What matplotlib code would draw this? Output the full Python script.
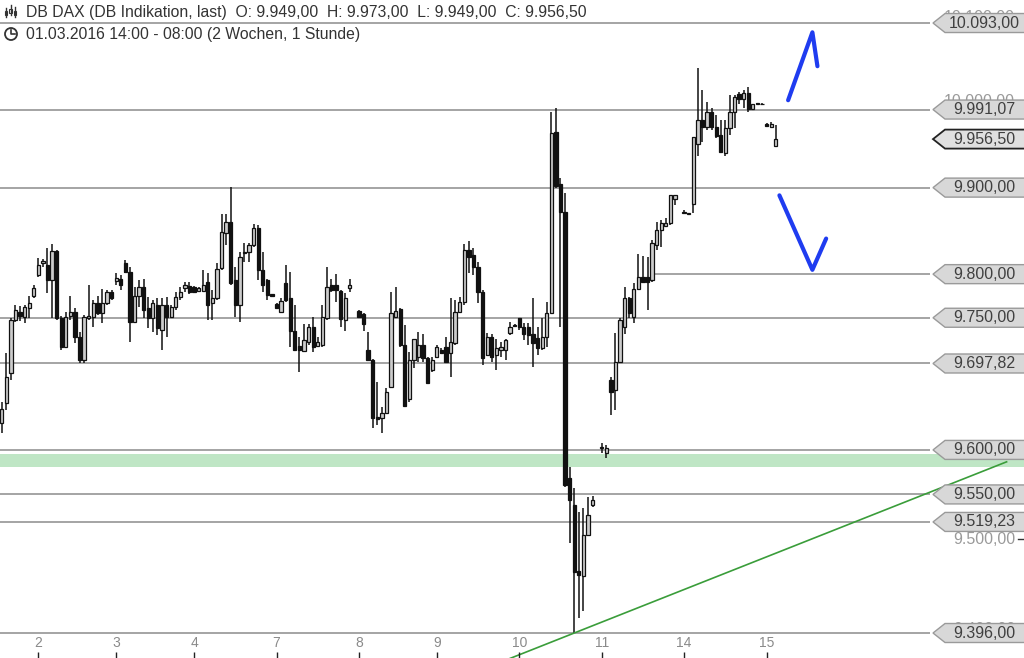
import numpy as np
import matplotlib.pyplot as plt
from matplotlib.patches import Polygon, Circle, Rectangle
from matplotlib.transforms import IdentityTransform, blended_transform_factory

W, H = 1024, 658

# hourly candles, DB DAX indication, 01.03.2016 14:00 - 15.03.2016 08:00
opens = [9630, 9653, 9687, 9747, 9757, 9751, 9761, 9775, 9799, 9813,
         9811, 9793, 9827, 9750, 9717, 9752, 9757, 9728, 9702, 9750,
         9751, 9767, 9755, 9767, 9780, 9792, 9795, 9813, 9803, 9745,
         9775, 9785, 9761, 9750, 9765, 9736, 9765, 9751, 9762, 9774,
         9784, 9786, 9785, 9781, 9781, 9791, 9767, 9773, 9807, 9848,
         9860, 9793, 9765, 9824, 9826, 9834, 9853, 9805, 9793, 9777,
         9766, 9757, 9790, 9773, 9735, 9718, 9712, 9722, 9739, 9718,
         9719, 9750, 9788, 9788, 9781, 9747, 9784, 9758, 9754, 9713,
         9702, 9637, 9636, 9642, 9671, 9751, 9760, 9719, 9658, 9702,
         9705, 9719, 9704, 9690, 9705, 9713, 9717, 9710, 9721, 9757,
         9768, 9828, 9822, 9808, 9780, 9708, 9728, 9708, 9713, 9713,
         9733, 9742, 9750, 9739, 9739, 9732, 9727, 9716, 9728, 9756,
         9965, 9904, 9872, 9568, 9538, 9465, 9459, 9505, 9538, 9602,
         9596, 9679, 9668, 9700, 9739, 9773, 9751, 9783, 9797, 9797,
         9793, 9834, 9851, 9855, 9859, 9887, 9871, 9869, 9881, 9951,
         9979, 9971, 9988, 9971, 9961, 9940, 9969, 9988, 10009, 10004,
         10011, 9992, 9999, 9997, 9974, 9971, 9949]
highs = [9654, 9710, 9750, 9765, 9764, 9765, 9775, 9788, 9819, 9817,
         9830, 9835, 9828, 9752, 9757, 9775, 9761, 9734, 9753, 9788,
         9770, 9775, 9783, 9782, 9782, 9801, 9799, 9816, 9808, 9785,
         9793, 9794, 9774, 9770, 9773, 9773, 9774, 9765, 9780, 9785,
         9791, 9791, 9786, 9785, 9805, 9801, 9782, 9813, 9869, 9869,
         9901, 9808, 9825, 9836, 9836, 9858, 9857, 9825, 9795, 9777,
         9767, 9773, 9811, 9803, 9765, 9728, 9743, 9743, 9751, 9728,
         9765, 9808, 9795, 9800, 9782, 9778, 9795, 9759, 9756, 9734,
         9703, 9677, 9648, 9670, 9780, 9785, 9761, 9742, 9711, 9726,
         9734, 9731, 9705, 9705, 9719, 9715, 9728, 9773, 9770, 9774,
         9835, 9838, 9830, 9814, 9782, 9733, 9731, 9726, 9722, 9726,
         9745, 9743, 9750, 9744, 9744, 9773, 9739, 9750, 9768, 9988,
         9993, 9911, 9894, 9581, 9557, 9530, 9535, 9547, 9548, 9608,
         9606, 9682, 9733, 9750, 9785, 9774, 9790, 9823, 9821, 9820,
         9839, 9860, 9862, 9865, 9892, 9892, 9874, 9871, 9959, 10040,
         10014, 10000, 9993, 9985, 9979, 9979, 10008, 10008, 10012, 10014,
         10017, 9998, 9999, 9999, 9975, 9976, 9973]
lows = [9619, 9645, 9679, 9745, 9746, 9744, 9750, 9773, 9797, 9808,
        9778, 9750, 9747, 9713, 9716, 9747, 9721, 9698, 9698, 9747,
        9739, 9753, 9744, 9765, 9770, 9788, 9782, 9801, 9722, 9744,
        9762, 9750, 9738, 9734, 9730, 9713, 9728, 9750, 9759, 9770,
        9780, 9777, 9778, 9780, 9780, 9747, 9747, 9770, 9805, 9833,
        9788, 9751, 9745, 9814, 9814, 9831, 9793, 9780, 9770, 9775,
        9760, 9755, 9768, 9717, 9712, 9688, 9711, 9719, 9711, 9717,
        9717, 9747, 9780, 9768, 9739, 9735, 9780, 9750, 9735, 9701,
        9625, 9628, 9619, 9640, 9670, 9750, 9717, 9649, 9654, 9693,
        9700, 9700, 9675, 9688, 9704, 9709, 9698, 9683, 9719, 9755,
        9765, 9801, 9799, 9767, 9696, 9706, 9700, 9690, 9705, 9702,
        9730, 9741, 9736, 9725, 9719, 9694, 9708, 9713, 9717, 9755,
        9900, 9740, 9558, 9496, 9396, 9413, 9420, 9503, 9536, 9597,
        9591, 9639, 9645, 9698, 9732, 9750, 9744, 9782, 9790, 9759,
        9791, 9828, 9831, 9854, 9857, 9880, 9869, 9869, 9871, 9937,
        9953, 9967, 9967, 9958, 9940, 9937, 9961, 9970, 9997, 9993,
        9988, 9990, 9998, 9997, 9971, 9971, 9949]
closes = [9646, 9682, 9747, 9759, 9752, 9762, 9767, 9784, 9811, 9815,
          9793, 9827, 9750, 9717, 9751, 9757, 9728, 9702, 9751, 9752,
          9767, 9755, 9767, 9779, 9773, 9796, 9788, 9803, 9745, 9775,
          9785, 9759, 9750, 9767, 9738, 9765, 9751, 9762, 9774, 9780,
          9788, 9780, 9780, 9784, 9788, 9765, 9773, 9806, 9849, 9860,
          9790, 9765, 9820, 9826, 9834, 9853, 9805, 9788, 9776, 9775,
          9761, 9769, 9770, 9735, 9713, 9713, 9725, 9739, 9717, 9722,
          9751, 9785, 9782, 9782, 9749, 9773, 9788, 9751, 9743, 9702,
          9636, 9635, 9642, 9665, 9755, 9758, 9719, 9650, 9702, 9726,
          9719, 9704, 9676, 9702, 9717, 9710, 9700, 9722, 9757, 9768,
          9828, 9820, 9808, 9780, 9704, 9728, 9705, 9716, 9717, 9725,
          9739, 9741, 9739, 9732, 9730, 9721, 9716, 9728, 9755, 9964,
          9902, 9872, 9561, 9544, 9464, 9460, 9505, 9527, 9544, 9603,
          9602, 9665, 9700, 9747, 9773, 9756, 9783, 9797, 9791, 9791,
          9836, 9851, 9859, 9859, 9891, 9891, 9872, 9871, 9959, 9979,
          9971, 9988, 9971, 9960, 9941, 9969, 9988, 10006, 10004, 10011,
          9992, 9997, 9998, 9998, 9972, 9974, 9956.5]

gap_after = [76, 128, 145]          # candles followed by an empty hour
day_labels = ["2", "3", "4", "7", "8", "9", "10", "11", "14", "15"]
day_first = [8, 25, 42, 60, 77, 94, 112, 129, 146, 164]

levels = [10093.00, 9991.07, 9900.00, 9800.00, 9750.00, 9697.82,
          9600.00, 9550.00, 9519.23, 9396.00]
level_from = {9800.00: 142}
last_price = 9956.50
axis_prices = [10100, 10000, 9500, 9400]
band = (9581, 9595)
trend_x = [125, 219.4]
trend_y = [9396, 9586.6]
arrow_up_x, arrow_up_y = [171.7, 177.0, 178.1], [10002, 10082, 10042]
arrow_dn_x, arrow_dn_y = [169.8, 177.0, 180.0], [9891, 9805, 9841]


def de(v):
    return f"{v:,.2f}".replace(",", "X").replace(".", ",").replace("X", ".")


plt.rcParams["font.family"] = ["Liberation Sans", "DejaVu Sans"]

fig = plt.figure(figsize=(W / 100, H / 100), dpi=100)
ax = fig.add_axes([0, 0, 1, 1])
ax.set_yscale("log")
ax.set_xlim(-0.37, 223.2)
ax.set_ylim(9368.5, 10120.3)
ax.axis("off")

o, h, l, c = map(np.array, (opens, highs, lows, closes))
idx = np.arange(len(o))
slots = idx + np.searchsorted(gap_after, idx, side="left")
up = c >= o

# support band and levels
ax.axhspan(band[0], band[1], color="#bfe6c5", lw=0, zorder=1)
x_end = 202.7
for lv in levels:
    ax.hlines(lv, level_from.get(lv, -1), x_end, color="#8c8c8c", lw=1.1, zorder=2)

# candles
ax.vlines(slots, l, h, color="#111111", lw=1.1, zorder=3)
ax.bar(slots[up], (c - o)[up], bottom=o[up], width=0.72,
       color="#cccccc", edgecolor="#111111", lw=0.9, zorder=4)
ax.bar(slots[~up], (o - c)[~up], bottom=c[~up], width=0.72,
       color="#111111", edgecolor="#111111", lw=0.9, zorder=4)

# trend line, extended to the left edge in log space
k = (np.log(trend_y[1]) - np.log(trend_y[0])) / (trend_x[1] - trend_x[0])
tx = np.array([100, trend_x[1]])
ty = np.exp(np.log(trend_y[0]) + k * (tx - trend_x[0]))
ax.plot(tx, ty, color="#3a9d3a", lw=1.2, zorder=5)

# hand-drawn arrows
ax.plot(arrow_up_x, arrow_up_y, color="#1f3cf0", lw=3, solid_capstyle="round", zorder=6)
ax.plot(arrow_dn_x, arrow_dn_y, color="#1f3cf0", lw=3, solid_capstyle="round", zorder=6)

# day axis
bt = blended_transform_factory(ax.transData, ax.transAxes)
day_x = slots[day_first]
ax.vlines(day_x, 0, 0.009, color="#222222", lw=1.0, transform=bt, zorder=5)
for x, lab in zip(day_x, day_labels):
    ax.text(x, 1 - 643 / H, lab, transform=bt, ha="center", va="center",
            fontsize=10, color="#8a8a8a")

# price axis labels (mostly hidden behind the tags)
ident = IdentityTransform()
for p in axis_prices:
    yd = ax.transData.transform((0, p))[1]
    ax.text(1015, yd, de(p), transform=ident, ha="right", va="center",
            fontsize=11.5, color="#9a9a9a", zorder=6)
    ax.plot([1018, 1026], [yd, yd], transform=ident, color="#333333", lw=1, zorder=6)


def price_tag(value, edge, face, lw):
    yd = ax.transData.transform((0, value))[1]
    pts = [(933, yd), (945, yd + 9.5), (1030, yd + 9.5), (1030, yd - 9.5), (945, yd - 9.5)]
    ax.add_patch(Polygon(pts, closed=True, transform=ident, fc=face, ec=edge,
                         lw=lw, zorder=7, clip_on=False))
    ax.text(984, yd, de(value), transform=ident, ha="center", va="center",
            fontsize=11.5, color="#404040", zorder=8)


for lv in levels:
    price_tag(lv, "#9a9a9a", "#d8d8d8", 1.0)
price_tag(last_price, "#222222", "#e0e0e0", 1.3)

# header
fig.text(26 / W, 1 - 12 / H, "DB DAX (DB Indikation, last)  O: 9.949,00  H: 9.973,00  "
         "L: 9.949,00  C: 9.956,50", ha="left", va="center", fontsize=11.3, color="#333333")
fig.text(26 / W, 1 - 34 / H, "01.03.2016 14:00 - 08:00 (2 Wochen, 1 Stunde)",
         ha="left", va="center", fontsize=11.3, color="#333333")

# little icons in front of the header lines
for i, (top, bot) in enumerate([(8, 17), (5, 15), (7, 17)]):
    cx = 6 + 4.5 * i
    fig.add_artist(plt.Line2D([cx, cx], [H - top, H - bot], transform=ident,
                              color="#333333", lw=1))
    fig.add_artist(Rectangle((cx - 1.2, H - bot + 2), 2.4, 4, transform=ident,
                             fc="white", ec="#333333", lw=0.8))
fig.add_artist(Circle((11, H - 34), 6, transform=ident, fc="none", ec="#333333", lw=1.3))
fig.add_artist(plt.Line2D([11, 11, 14.5], [H - 30, H - 34, H - 34], transform=ident,
                          color="#333333", lw=1.2))

fig.savefig("out.png", dpi=100)
